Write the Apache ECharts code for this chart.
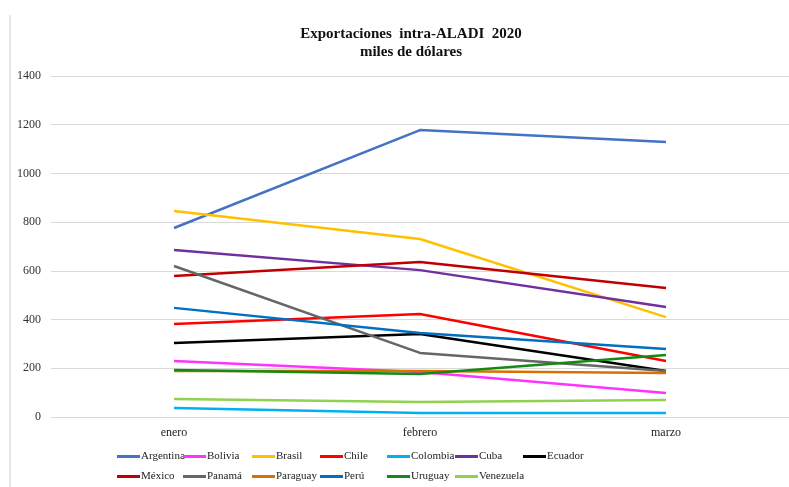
<!DOCTYPE html>
<html><head><meta charset="utf-8">
<script src="https://cdn.jsdelivr.net/npm/echarts@6/dist/echarts.min.js"></script>
<style>html,body{margin:0;padding:0;background:#fff}#c{width:789px;height:487px}</style>
</head><body><div id="c"></div>
<script>
const categories = ['enero', 'febrero', 'marzo'];
const yTicks = [0, 200, 400, 600, 800, 1000, 1200, 1400];
const countries = ['Argentina','Bolivia','Brasil','Chile','Colombia','Cuba','Ecuador','México','Panamá','Paraguay','Perú','Uruguay','Venezuela'];
const argentina = [776, 1178, 1129];
const bolivia = [230, 185, 99];
const brasil = [846, 731, 410];
const chile = [382, 423, 230];
const colombia = [37, 16, 16];
const cuba = [686, 603, 452];
const ecuador = [304, 341, 189];
const mexico = [579, 636, 530];
const panama = [620, 263, 189];
const paraguay = [189, 189, 181];
const peru = [448, 345, 279];
const uruguay = [193, 177, 255];
const venezuela = [74, 62, 70];
const seriesValues = [argentina, bolivia, brasil, chile, colombia, cuba, ecuador, mexico, panama, paraguay, peru, uruguay, venezuela];
const colors = ['#4472C4','#FF33FF','#FFC000','#FF0000','#00B0F0','#7030A0','#000000','#C00000','#666666','#D97100','#0070C0','#148A14','#92D050'];

const font = '"Liberation Serif", "DejaVu Serif", serif';
const colX = [117, 183, 252, 320, 387, 455, 523];
const legends = countries.map((name, i) => ({
  data: [name],
  left: colX[i % 7],
  top: i < 7 ? 451 : 471,
  itemWidth: 23,
  itemHeight: 3,
  itemGap: 0,
  padding: 0,
  icon: 'rect',
  textStyle: { fontFamily: font, fontSize: 11, color: '#222', padding: [0, 0, 0, -4] }
}));

const chart = echarts.init(document.getElementById('c'), null, { renderer: 'canvas' });
chart.setOption({
  animation: false,
  color: colors,
  title: {
    text: 'Exportaciones  intra-ALADI  2020\nmiles de dólares',
    left: 406,
    top: 20,
    textAlign: 'center',
    textStyle: { fontFamily: font, fontSize: 15, fontWeight: 'bold', color: '#111', lineHeight: 18 }
  },
  legend: legends,
  grid: { left: 51, right: -1, top: 76, bottom: 70, containLabel: false },
  xAxis: {
    type: 'category',
    data: categories,
    boundaryGap: true,
    axisLine: { show: false },
    axisTick: { show: false },
    axisLabel: { fontFamily: font, fontSize: 12, color: '#222', margin: 10 }
  },
  yAxis: {
    type: 'value',
    min: yTicks[0],
    max: yTicks[yTicks.length - 1],
    interval: 200,
    axisLine: { show: false },
    axisTick: { show: false },
    axisLabel: { fontFamily: font, fontSize: 12, color: '#333', margin: 10, formatter: v => String(v) },
    splitLine: { lineStyle: { color: '#d9d9d9', width: 1 } }
  },
  graphic: [{
    type: 'line', shape: { x1: 10, y1: 15, x2: 10, y2: 487 },
    style: { stroke: '#d0d0d0', lineWidth: 1 }, silent: true
  }],
  series: countries.map((name, i) => ({
    name: name,
    type: 'line',
    data: seriesValues[i],
    symbol: 'none',
    lineStyle: { width: 2.5, color: colors[i] },
    itemStyle: { color: colors[i] }
  }))
});
</script>
</body></html>
